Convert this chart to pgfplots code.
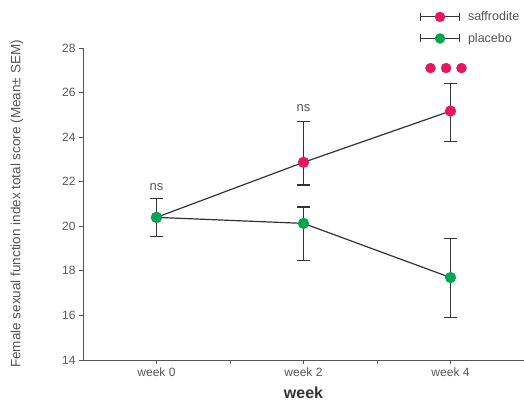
\documentclass[border=0pt]{standalone}
\usepackage{fontspec}
\setmainfont{Liberation Sans}
\usepackage{pgfplots}
\pgfplotsset{compat=1.18}
\definecolor{saff}{HTML}{E8175D}
\definecolor{plac}{HTML}{00A651}
\definecolor{axgray}{HTML}{555555}
\definecolor{linegray}{HTML}{333333}

\begin{document}
\begin{tikzpicture}[x=1pt,y=1pt]
\useasboundingbox (0,0) rectangle (524,402);
\begin{axis}[
    at={(83pt,42pt)}, anchor=south west,
    scale only axis, width=441pt, height=312pt,
    xmin=-0.5, xmax=2.5, ymin=14, ymax=28,
    axis x line=bottom, axis y line=left,
    axis line style={-, axgray, line width=1pt},
    xtick={0,1,2}, xticklabels={week 0, week 2, week 4},
    minor xtick={0.5,1.5},
    ytick={14,16,...,28},
    tick align=outside, major tick length=4pt, minor tick length=4pt,
    tick style={axgray, line width=0.9pt},
    ticklabel style={font=\fontsize{12}{14}\selectfont, text=axgray},
    /pgf/number format/assume math mode=true,
    xlabel={week},
    xlabel style={font=\fontsize{16}{18}\selectfont\bfseries, text=linegray, yshift=-3.5pt},
    ylabel={Female sexual function index total score (Mean± SEM)},
    ylabel style={font=\fontsize{13.5}{15}\selectfont, text=axgray,
        at={(axis description cs:-0.150,0.5)}, anchor=center},
    clip=false,
    legend style={at={(0.757,1.13)}, anchor=north west, draw=none, fill=none,
        font=\fontsize{12.5}{14}\selectfont, text=axgray, row sep=7pt,
        nodes={inner xsep=8pt}},
    legend cell align=left,
    error bars/error bar style={linegray, line width=1.3pt},
    error bars/error mark options={linegray, line width=1.3pt, mark size=6.5pt, rotate=90},
]

\addlegendimage{legend image code/.code={
    \draw[linegray,line width=1pt] (0pt,0pt) -- (39pt,0pt);
    \draw[linegray,line width=1pt] (0pt,-4pt) -- (0pt,4pt) (39pt,-4pt) -- (39pt,4pt);
    \fill[saff] (19.5pt,0pt) circle (5pt);}}
\addlegendentry{saffrodite}
\addlegendimage{legend image code/.code={
    \draw[linegray,line width=1pt] (0pt,0pt) -- (39pt,0pt);
    \draw[linegray,line width=1pt] (0pt,-4pt) -- (0pt,4pt) (39pt,-4pt) -- (39pt,4pt);
    \fill[plac] (19.5pt,0pt) circle (5pt);}}
\addlegendentry{placebo}

% saffrodite
\addplot[linegray, line width=1.2pt, mark=*, mark size=5pt,
    mark options={draw=saff, fill=saff},
    error bars/.cd, y dir=both, y explicit]
    table[x=x, y=y, y error plus=ep, y error minus=em] {
    x y     ep   em
    0 20.40 0.85 0.85
    1 22.87 1.83 1.02
    2 25.17 1.23 1.37
    };

% placebo
\addplot[linegray, line width=1.2pt, mark=*, mark size=5pt,
    mark options={draw=plac, fill=plac},
    error bars/.cd, y dir=both, y explicit]
    table[x=x, y=y, y error plus=ep, y error minus=em] {
    x y     ep   em
    0 20.40 0.85 0.85
    1 20.13 0.74 1.65
    2 17.70 1.75 1.80
    };

% significance markers
\addplot[only marks, mark=*, mark size=5pt, saff] coordinates {
    (1.864,27.1) (1.970,27.1) (2.075,27.1)
};

\node[font=\fontsize{13}{15}\selectfont, text=axgray] at (axis cs:0,21.75) {ns};
\node[font=\fontsize{13}{15}\selectfont, text=axgray] at (axis cs:1,25.3) {ns};

\end{axis}
\end{tikzpicture}
\end{document}
